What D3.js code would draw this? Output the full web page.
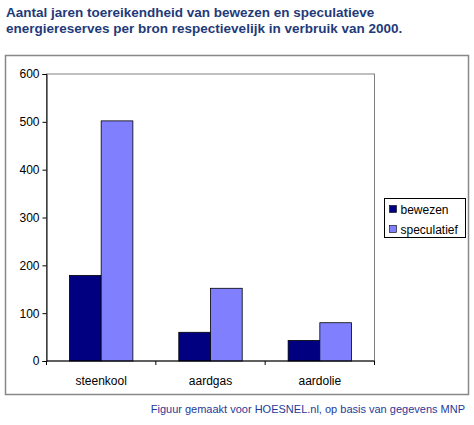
<!DOCTYPE html>
<html><head><meta charset="utf-8">
<script src="https://cdn.jsdelivr.net/npm/d3@7"></script>
<style>
body{margin:0;background:#fff;font-family:Arial,"Liberation Sans",sans-serif}
</style></head><body>
<svg id="c" width="474" height="425"></svg>
<script>
const categories = ["steenkool", "aardgas", "aardolie"];
const seriesNames = ["bewezen", "speculatief"];
const bewezen = [179, 60, 43];
const speculatief = [502, 152, 80];
const yTicks = [0, 100, 200, 300, 400, 500, 600];
const colors = ["#000080", "#8080ff"];

const svg = d3.select("#c");
svg.append("text").attr("x", 6).attr("y", 17).attr("fill", "#1f3a7a")
  .attr("font-weight", "bold").attr("font-size", 13.5)
  .text("Aantal jaren toereikendheid van bewezen en speculatieve");
svg.append("text").attr("x", 6).attr("y", 33).attr("fill", "#1f3a7a")
  .attr("font-weight", "bold").attr("font-size", 13.5)
  .text("energiereserves per bron respectievelijk in verbruik van 2000.");

// chart frame
svg.append("rect").attr("x", 5.5).attr("y", 55.5).attr("width", 463).attr("height", 339)
  .attr("fill", "none").attr("stroke", "#888").attr("stroke-width", 1.5);

const x0 = d3.scaleBand().domain(categories).range([46.5, 374.5]).paddingInner(0.42).paddingOuter(0.21);
const x1 = d3.scaleBand().domain(seriesNames).range([0, x0.bandwidth()]);
const y = d3.scaleLinear().domain([0, 600]).range([361, 74]);

svg.append("rect").attr("x", 46.5).attr("y", 74).attr("width", 328).attr("height", 287)
  .attr("fill", "none").attr("stroke", "#808080");

const data = categories.map((c, i) => ({ c, v: [bewezen[i], speculatief[i]] }));
svg.append("g").selectAll("g").data(data).join("g")
  .attr("transform", d => `translate(${x0(d.c)},0)`)
  .selectAll("rect").data(d => d.v.map((v, j) => ({ v, s: seriesNames[j], j })))
  .join("rect")
  .attr("x", d => x1(d.s)).attr("y", d => y(d.v))
  .attr("width", x1.bandwidth()).attr("height", d => y(0) - y(d.v))
  .attr("fill", d => colors[d.j]).attr("stroke", "#000").attr("stroke-width", 0.8);

const ya = svg.append("g").attr("transform", "translate(46.5,0)")
  .call(d3.axisLeft(y).tickValues(yTicks).tickSize(4));
ya.select(".domain").attr("stroke", "#000");
ya.selectAll("text").attr("font-size", 12).attr("font-family", "Arial,Liberation Sans").attr("fill", "#000");

const xa = svg.append("g").attr("transform", "translate(0,361)");
xa.append("line").attr("x1", 46.5).attr("x2", 374.5).attr("stroke", "#000");
const step = 328 / categories.length;
d3.range(categories.length + 1).forEach(i => {
  xa.append("line").attr("x1", 46.5 + i * step).attr("x2", 46.5 + i * step)
    .attr("y1", 0).attr("y2", 4).attr("stroke", "#000");
});
xa.selectAll("text.cat").data(categories).join("text").attr("class", "cat")
  .attr("x", d => x0(d) + x0.bandwidth() / 2).attr("y", 24)
  .attr("text-anchor", "middle").attr("font-size", 12).text(d => d);

const lg = svg.append("g").attr("transform", "translate(384.5,198.5)");
lg.append("rect").attr("width", 81).attr("height", 39).attr("fill", "#fff").attr("stroke", "#000");
seriesNames.forEach((s, i) => {
  lg.append("rect").attr("x", 5).attr("y", 7 + i * 20).attr("width", 7).attr("height", 7)
    .attr("fill", colors[i]).attr("stroke", "#000").attr("stroke-width", 0.6);
  lg.append("text").attr("x", 16).attr("y", 15 + i * 20).attr("font-size", 12).text(s);
});

svg.append("text").attr("x", 465).attr("y", 413).attr("text-anchor", "end")
  .attr("fill", "#1f3a9a").attr("font-size", 11)
  .text("Figuur gemaakt voor HOESNEL.nl, op basis van gegevens MNP");
</script></body></html>
